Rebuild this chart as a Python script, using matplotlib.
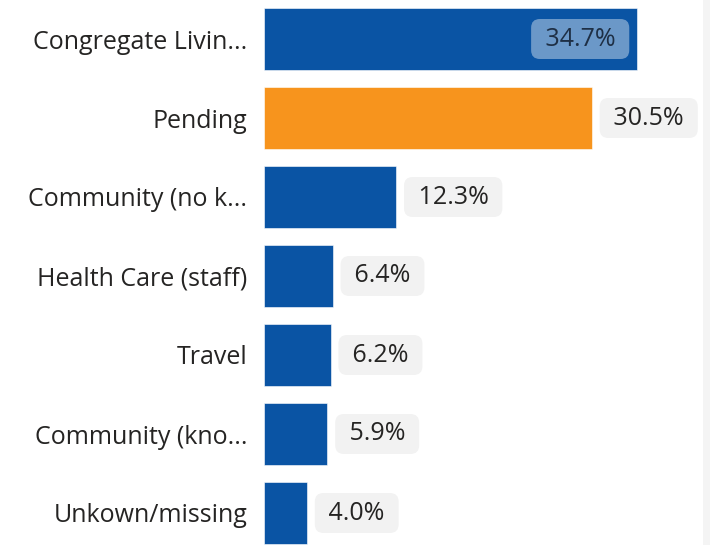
import matplotlib
matplotlib.use("Agg")
import matplotlib.pyplot as plt

categories = ["Congregate Livin...", "Pending", "Community (no k...", "Health Care (staff)",
              "Travel", "Community (kno...", "Unkown/missing"]
values = [34.7, 30.5, 12.3, 6.4, 6.2, 5.9, 4.0]
labels = ["34.7%", "30.5%", "12.3%", "6.4%", "6.2%", "5.9%", "4.0%"]
colors = ["#0A54A4", "#F7941D", "#0A54A4", "#0A54A4", "#0A54A4", "#0A54A4", "#0A54A4"]

plt.rcParams['font.family'] = ['Open Sans', 'DejaVu Sans']

W, H = 710, 545
fig = plt.figure(figsize=(W/100, H/100), dpi=100)
fig.patch.set_facecolor("white")
ax = fig.add_axes([264/W, 0, 430/W, 1])
ax.set_xlim(0, 40)
top = -39/79
bottom = (545-39)/79
ax.set_ylim(bottom, top)
ypos = list(range(len(categories)))
ax.barh(ypos, values, height=62/79, color=colors, edgecolor="#ffffff", linewidth=0.4)
ax.set_yticks(ypos)
ax.set_yticklabels(categories, fontsize=18, color="#252423")
ax.tick_params(axis='y', length=0, pad=12)
ax.set_xticks([])
for s in ax.spines.values():
    s.set_visible(False)
ax.set_facecolor("none")

fs = 18
for i, (v, lab) in enumerate(zip(values, labels)):
    if i == 0:
        ax.annotate(" " + lab + " ", xy=(v, i), xytext=(-11, 0), textcoords="offset points",
                    ha="right", va="center", fontsize=fs, color="#1e2f45",
                    bbox=dict(boxstyle="round,pad=0.3,rounding_size=0.35", fc="#ffffff", ec="none", alpha=0.4))
    else:
        ax.annotate(" " + lab + " ", xy=(v, i), xytext=(11, 0), textcoords="offset points",
                    ha="left", va="center", fontsize=fs, color="#252423",
                    bbox=dict(boxstyle="round,pad=0.3,rounding_size=0.35", fc="#f2f2f2", ec="none"))

# right edge strip
fig.patches.append(plt.Rectangle((703/W, 0), 7/W, 1, transform=fig.transFigure,
                                 facecolor="#f4f4f4", edgecolor="none"))
fig.savefig("out.png", dpi=100)
